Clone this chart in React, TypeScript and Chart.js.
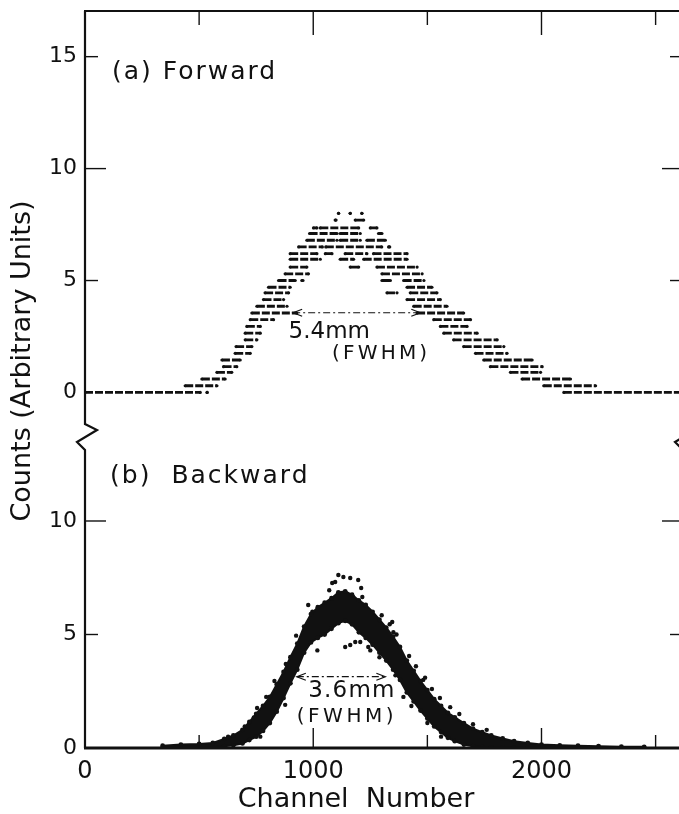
import React, { useEffect, useRef } from "react";
import { Chart, registerables } from "chart.js";

Chart.register(...registerables);

const FONT = "'DejaVu Sans', 'Liberation Sans', sans-serif";
const INK = "#111111";

// ---- axes ----
const X_MIN = 0;
const X_MAX = 2620;
const xLabelTicks = [0, 1000, 2000];
const xTickMarks = [500, 1000, 1500, 2000, 2500];
const xMajorMarks = [1000, 2000];

const topRange = [-1.99, 17.04];
const bottomRange = [0, 13.7];
const topYTicks = [0, 5, 10, 15];
const topYMarks = [5, 10, 15];
const bottomYTicks = [0, 5, 10];
const bottomYMarks = [5, 10];
const yMajorMarks = [10];

// ---- (a) Forward: quantised count levels and the channel runs found on each level ----
const fwdLevels = [
  8.0, 7.7, 7.35, 7.1, 6.8, 6.5, 6.2, 5.95, 5.6, 5.3, 5.0, 4.7, 4.45, 4.15,
  3.85, 3.55, 3.25, 2.95, 2.65, 2.35, 2.05, 1.75, 1.45, 1.15, 0.9, 0.6, 0.3, 0,
];
const fwdRuns = [
  [1111, 1111, 1162, 1162, 1213, 1213],
  [1096, 1100, 1184, 1221],
  [1001, 1016, 1031, 1199, 1250, 1279],
  [984, 1104, 1118, 1206, 1286, 1301],
  [972, 1104, 1118, 1206, 1235, 1316],
  [936, 1040, 1055, 1300, 1330, 1335],
  [899, 1016, 1053, 1082, 1140, 1235, 1264, 1411],
  [899, 1031, 1118, 1177, 1221, 1411],
  [899, 972, 1162, 1199, 1279, 1455],
  [877, 979, 1301, 1477],
  [848, 921, 950, 955, 1301, 1338, 1396, 1485],
  [804, 899, 1411, 1520],
  [789, 892, 1323, 1367, 1425, 1542],
  [782, 870, 1411, 1557],
  [753, 885, 1440, 1586],
  [731, 928, 1455, 1659],
  [724, 826, 1528, 1689],
  [709, 768, 1557, 1674],
  [702, 768, 1572, 1718],
  [702, 753, 1615, 1806],
  [662, 731, 1659, 1835],
  [658, 724, 1711, 1849],
  [600, 680, 1747, 1959],
  [607, 665, 1776, 2003],
  [578, 643, 1864, 1996],
  [512, 614, 1915, 2127],
  [439, 578, 2010, 2237],
  [0, 505, 535, 535, 2098, 2620],
];

// ---- (b) Backward: dense band (lower / upper edge) plus stray counts ----
const bwdBandX = [
  340, 420, 500, 560, 610, 650, 690, 720, 750, 780, 810, 840, 870, 900, 930, 960,
  990, 1020, 1050, 1080, 1110, 1140, 1170, 1200, 1230, 1260, 1290, 1320, 1350,
  1380, 1410, 1440, 1470, 1500, 1530, 1560, 1590, 1620, 1660, 1700, 1740, 1780,
  1830, 1880, 1940, 2000, 2080, 2160, 2250, 2350, 2450,
];
const bwdBandLow = [
  0, 0, 0.02, 0.03, 0.08, 0.12, 0.2, 0.35, 0.5, 0.75, 1.1, 1.6, 2.2, 2.85, 3.45,
  4.2, 4.65, 4.85, 5.0, 5.25, 5.5, 5.6, 5.45, 5.1, 4.85, 4.55, 4.2, 3.85, 3.45,
  3.0, 2.45, 2.05, 1.65, 1.3, 0.95, 0.7, 0.45, 0.3, 0.15, 0.08, 0.05, 0.03, 0.02,
  0.01, 0, 0, 0, 0, 0, 0, 0,
];
const bwdBandHigh = [
  0.1, 0.15, 0.18, 0.22, 0.4, 0.55, 0.8, 1.15, 1.5, 1.85, 2.25, 2.8, 3.35, 4.0,
  4.6, 5.35, 5.9, 6.2, 6.4, 6.6, 6.85, 6.9, 6.75, 6.5, 6.3, 6.0, 5.65, 5.3, 4.9,
  4.45, 3.85, 3.4, 2.95, 2.55, 2.15, 1.85, 1.55, 1.35, 1.1, 0.85, 0.7, 0.55,
  0.42, 0.3, 0.22, 0.15, 0.12, 0.1, 0.08, 0.06, 0.05,
];
const bwdDotsX = [
  1110, 1132, 1162, 1197, 1083, 1096, 1070, 1210, 1175, 1215, 754, 877, 794, 627,
  768, 996, 978, 1018, 1140, 1162, 1184, 1206, 1241, 1250, 1346, 1351, 1395, 1482,
  1300, 1335, 1365, 1420, 1450, 1490, 1520, 1555, 1600, 1640, 1700, 1760, 700, 740,
  830, 880, 925, 1290, 1360, 1430, 1500, 1560,
];
const bwdDotsY = [
  7.62, 7.53, 7.49, 7.4, 7.27, 7.31, 6.95, 7.05, 6.65, 6.65, 1.76, 1.9, 2.25, 0.5,
  0.5, 6.0, 6.3, 4.3, 4.45, 4.54, 4.67, 4.67, 4.45, 4.3, 5.55, 5.1, 2.25, 3.0,
  5.85, 5.45, 5.0, 4.05, 3.6, 3.1, 2.6, 2.2, 1.8, 1.5, 1.05, 0.8, 0.95, 1.35,
  2.95, 3.7, 4.95, 4.0, 3.2, 1.85, 1.1, 0.5,
];

// ---- annotations (data coordinates) ----
const fwdArrow = { from: 912, to: 1469, level: 3.56 };
const bwdArrow = { from: 928, to: 1316, level: 3.14 };
const notes = [
  { text: "(a) Forward", axis: "yt", x: 118, y: 14.29, size: 25, spacing: 2 },
  { text: "5.4mm", axis: "yt", x: 892, y: 2.72, size: 23, spacing: 0 },
  { text: "(FWHM)", axis: "yt", x: 1082, y: 1.72, size: 20, spacing: 3.2 },
  { text: "(b)  Backward", axis: "yb", x: 110, y: 11.94, size: 25, spacing: 2 },
  { text: "3.6mm", axis: "yb", x: 978, y: 2.49, size: 23, spacing: 1.2 },
  { text: "(FWHM)", axis: "yb", x: 928, y: 1.38, size: 20, spacing: 3.5 },
];
const yTitle = "Counts (Arbitrary Units)";
const xTitle = "Channel  Number";

function buildRunData() {
  const out: any[] = [];
  fwdLevels.forEach((lv, i) => {
    const r = fwdRuns[i];
    for (let k = 0; k < r.length; k += 2) {
      out.push({ x: r[k], y: lv }, { x: r[k + 1], y: lv }, { x: r[k + 1], y: null });
    }
  });
  return out;
}

function drawText(ctx: any, text: string, x: number, y: number, size: number, spacing: number, align: string) {
  ctx.font = `${size}px ${FONT}`;
  ctx.letterSpacing = `${spacing}px`;
  ctx.textAlign = align;
  ctx.textBaseline = "middle";
  ctx.fillText(text, x, y);
  ctx.letterSpacing = "0px";
}

const decorPlugin = {
  id: "decor",
  afterDatasetsDraw(chart: any) {
    const { ctx, chartArea: ca, scales } = chart;
    const xs = scales.x;
    const yt = scales.yt;
    const yb = scales.yb;
    const brk = yt.bottom;
    ctx.save();
    ctx.strokeStyle = INK;
    ctx.fillStyle = INK;
    const seg = (x1: number, y1: number, x2: number, y2: number) => {
      ctx.beginPath();
      ctx.moveTo(x1, y1);
      ctx.lineTo(x2, y2);
      ctx.stroke();
    };
    // frame with axis breaks
    ctx.lineWidth = 2.2;
    const zig = (x: number) => {
      ctx.beginPath();
      ctx.moveTo(x, ca.top);
      ctx.lineTo(x, brk - 13);
      ctx.lineTo(x + 12, brk - 7);
      ctx.lineTo(x - 8, brk + 5);
      ctx.lineTo(x, brk + 13);
      ctx.lineTo(x, ca.bottom);
      ctx.stroke();
    };
    zig(ca.left);
    zig(ca.right);
    seg(ca.left - 1, ca.top, ca.right, ca.top);
    ctx.lineWidth = 2.8;
    seg(ca.left - 1, ca.bottom, ca.right, ca.bottom);

    // inward tick marks
    ctx.lineWidth = 1.4;
    for (const v of xTickMarks) {
      const px = xs.getPixelForValue(v);
      const major = xMajorMarks.includes(v);
      seg(px, ca.top, px, ca.top + (major ? 24 : 14));
      seg(px, ca.bottom, px, ca.bottom - (major ? 20 : 13));
    }
    const yMarks = (scale: any, marks: number[]) => {
      for (const v of marks) {
        const py = scale.getPixelForValue(v);
        const len = yMajorMarks.includes(v) ? 21 : 13;
        seg(ca.left, py, ca.left + len, py);
        seg(ca.right, py, ca.right - len, py);
      }
    };
    yMarks(yt, topYMarks);
    yMarks(yb, bottomYMarks);

    // FWHM arrows
    const head = (x: number, y: number, dir: number) => {
      ctx.beginPath();
      ctx.moveTo(x - dir * 9, y - 3.5);
      ctx.lineTo(x, y);
      ctx.lineTo(x - dir * 9, y + 3.5);
      ctx.stroke();
    };
    const arrow = (scale: any, a: any) => {
      const y = scale.getPixelForValue(a.level);
      const x1 = xs.getPixelForValue(a.from);
      const x2 = xs.getPixelForValue(a.to);
      ctx.lineWidth = 1.2;
      ctx.setLineDash([7, 3, 2, 3]);
      seg(x1, y, x2, y);
      ctx.setLineDash([]);
      head(x1, y, -1);
      head(x2, y, 1);
    };
    arrow(yt, fwdArrow);
    arrow(yb, bwdArrow);

    // labels
    for (const n of notes) {
      const sc = n.axis === "yt" ? yt : yb;
      drawText(ctx, n.text, xs.getPixelForValue(n.x), sc.getPixelForValue(n.y), n.size, n.spacing, "left");
    }
    drawText(ctx, xTitle, 356, ca.bottom + 52, 27, 0, "center");
    ctx.save();
    ctx.translate(23, 361);
    ctx.rotate(-Math.PI / 2);
    drawText(ctx, yTitle, 0, 0, 27, 0, "center");
    ctx.restore();
    ctx.restore();
  },
};

export default function App() {
  const ref = useRef<HTMLCanvasElement | null>(null);
  useEffect(() => {
    if (!ref.current) return;
    const yScale = (range: number[], ticks: number[], stackWeight: number, weight: number) => ({
      type: "linear",
      position: "left",
      stack: "counts",
      stackWeight,
      weight,
      min: range[0],
      max: range[1],
      grid: { display: false, drawTicks: false },
      border: { display: false },
      ticks: {
        font: { family: FONT, size: 22 },
        color: INK,
        padding: 8,
        autoSkip: false,
        callback: (v: any) => String(v),
      },
      afterBuildTicks: (s: any) => {
        s.ticks = ticks.map((v) => ({ value: v }));
      },
      afterFit: (s: any) => {
        s.width = 85;
        s.paddingTop = 0;
        s.paddingBottom = 0;
      },
    });
    const chart = new Chart(ref.current, {
      type: "line",
      data: {
        datasets: [
          {
            label: "Forward",
            data: buildRunData(),
            yAxisID: "yt",
            borderColor: INK,
            backgroundColor: INK,
            borderWidth: 2.8,
            borderDash: [8, 2],
            pointRadius: 1.6,
            pointBorderWidth: 0,
            pointBackgroundColor: INK,
            spanGaps: false,
            tension: 0,
            fill: false,
          },
          {
            label: "Backward low",
            data: bwdBandX.map((x, i) => ({ x, y: bwdBandLow[i] })),
            yAxisID: "yb",
            borderColor: INK,
            borderWidth: 2,
            pointRadius: 2.4,
            pointBorderWidth: 0,
            pointBackgroundColor: INK,
            tension: 0,
            fill: false,
          },
          {
            label: "Backward high",
            data: bwdBandX.map((x, i) => ({ x, y: bwdBandHigh[i] })),
            yAxisID: "yb",
            borderColor: INK,
            backgroundColor: INK,
            borderWidth: 2,
            pointRadius: 2.4,
            pointBorderWidth: 0,
            pointBackgroundColor: INK,
            tension: 0,
            fill: "-1",
          },
          {
            label: "Backward scatter",
            data: bwdDotsX.map((x, i) => ({ x, y: bwdDotsY[i] })),
            yAxisID: "yb",
            showLine: false,
            pointRadius: 2.2,
            pointBorderWidth: 0,
            pointBackgroundColor: INK,
            fill: false,
          },
        ],
      },
      options: {
        responsive: false,
        animation: false,
        events: [],
        layout: { padding: { top: 11, right: 17, bottom: 0, left: 0 } },
        plugins: { legend: { display: false }, tooltip: { enabled: false } },
        scales: {
          x: {
            type: "linear",
            position: "bottom",
            min: X_MIN,
            max: X_MAX,
            grid: { display: false, drawTicks: false },
            border: { display: false },
            ticks: {
              font: { family: FONT, size: 24 },
              color: INK,
              padding: 9,
              maxRotation: 0,
              autoSkip: false,
              callback: (v: any) => String(v),
            },
            afterBuildTicks: (s: any) => {
              s.ticks = xLabelTicks.map((v) => ({ value: v }));
            },
            afterFit: (s: any) => {
              s.height = 66;
            },
          },
          yb: yScale(bottomRange, bottomYTicks, 311, 1),
          yt: yScale(topRange, topYTicks, 426, 2),
        } as any,
      },
      plugins: [decorPlugin],
    } as any);
    return () => chart.destroy();
  }, []);
  return (
    <div style={{ position: "fixed", left: 0, top: 0, width: 679, height: 814, overflow: "hidden", background: "#fff" }}>
      <canvas ref={ref} width={700} height={814} style={{ display: "block" }} />
    </div>
  );
}
